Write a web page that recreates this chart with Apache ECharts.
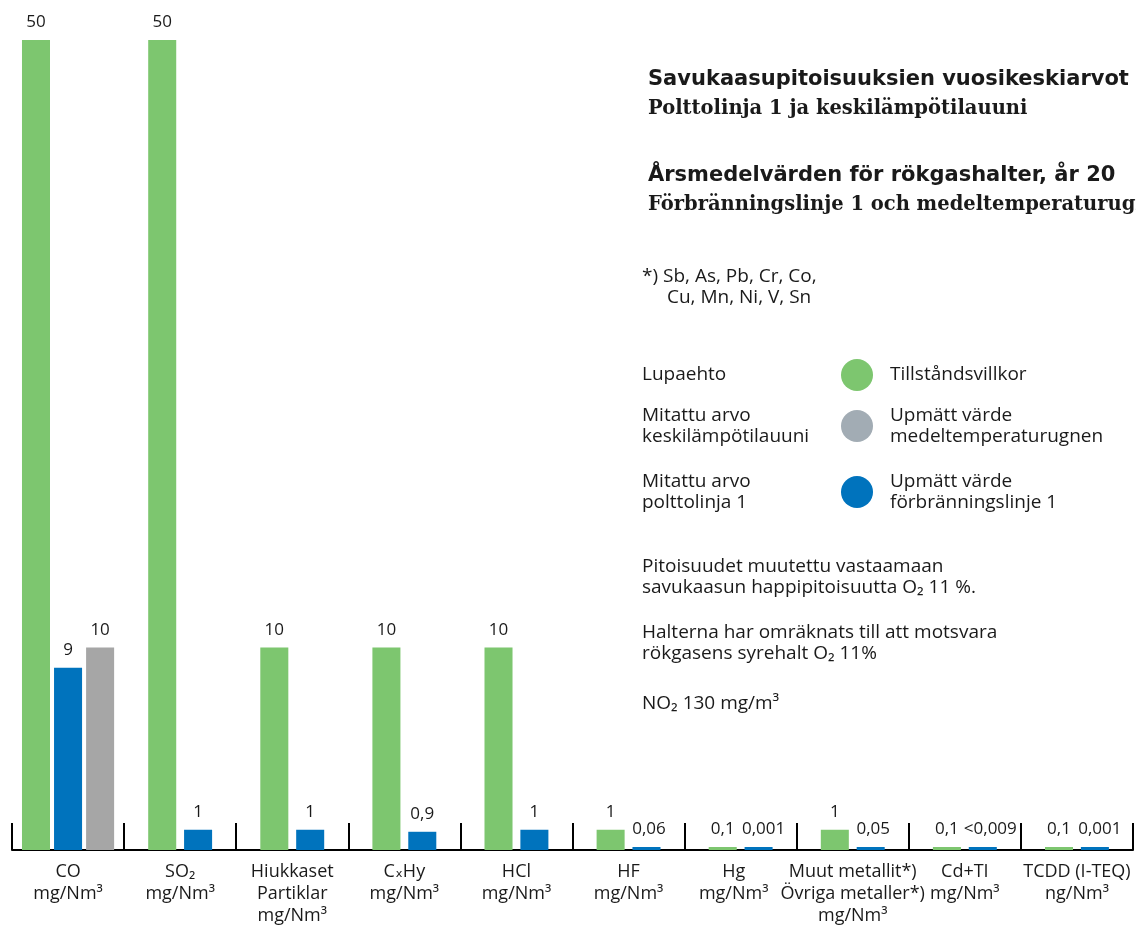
<!DOCTYPE html>
<html><head><meta charset="utf-8">
<script src="https://cdn.jsdelivr.net/npm/echarts@6/dist/echarts.min.js"></script>
<style>html,body{margin:0;padding:0;background:#fff}#c{width:1136px;height:928px}</style>
</head><body><div id="c"></div>
<script>
// ---- data ----
const categories = [
  "CO\nmg/Nm³", "SO₂\nmg/Nm³", "Hiukkaset\nPartiklar\nmg/Nm³", "CₓHy\nmg/Nm³", "HCl\nmg/Nm³",
  "HF\nmg/Nm³", "Hg\nmg/Nm³", "Muut metallit*)\nÖvriga metaller*)\nmg/Nm³", "Cd+TI\nmg/Nm³", "TCDD (I-TEQ)\nng/Nm³"
];
const permitValues  = [50, 50, 10, 10, 10, 1, 0.1, 1, 0.1, 0.1];
const line1Values   = [9, 1, 1, 0.9, 1, 0.06, 0.001, 0.05, 0.009, 0.001];
const furnaceValues = [10, null, null, null, null, null, null, null, null, null];
const permitLabels  = ["50", "50", "10", "10", "10", "1", "0,1", "1", "0,1", "0,1"];
const line1Labels   = ["9", "1", "1", "0,9", "1", "0,06", "0,001", "0,05", "<0,009", "0,001"];
const furnaceLabels = ["10", "", "", "", "", "", "", "", "", ""];
const seriesNames = ["Lupaehto / Tillståndsvillkor", "Mitattu arvo polttolinja 1 / Upmätt värde förbränningslinje 1", "Mitattu arvo keskilämpötilauuni / Upmätt värde medeltemperaturugnen"];
const legendFi = ["Lupaehto", "Mitattu arvo\nkeskilämpötilauuni", "Mitattu arvo\npolttolinja 1"];
const legendSv = ["Tillståndsvillkor", "Upmätt värde\nmedeltemperaturugnen", "Upmätt värde\nförbränningslinje 1"];
const titleFi = "Savukaasupitoisuuksien vuosikeskiarvot";
const subtitleFi = "Polttolinja 1 ja keskilämpötilauuni";
const titleSv = "Årsmedelvärden för rökgashalter, år 20";
const subtitleSv = "Förbränningslinje 1 och medeltemperaturugnen";
const noteMetals = ["*) Sb, As, Pb, Cr, Co,", "Cu, Mn, Ni, V, Sn"];
const noteFi = "Pitoisuudet muutettu vastaamaan\nsavukaasun happipitoisuutta O₂ 11 %.";
const noteSv = "Halterna har omräknats till att motsvara\nrökgasens syrehalt O₂ 11%";
const noteNO2 = "NO₂ 130 mg/m³";

// ---- styles ----
const GREEN = '#7DC66F', BLUE = '#0073BD', GRAY = '#A6A6A6', LEGGRAY = '#A2ACB4';
const FONT = '"Open Sans", "DejaVu Sans", sans-serif';
const SERIF = '"DejaVu Serif", "Liberation Serif", serif';

const order = [permitValues, line1Values, furnaceValues];
const labelsBy = [permitLabels, line1Labels, furnaceLabels];
const colors = [GREEN, BLUE, GRAY];

function makeRender(si) {
  return function (params, api) {
    const cat = api.value(0), val = api.value(1);
    const present = order.map(a => a[cat] != null);
    const n = present.filter(Boolean).length;
    let slot = 0;
    for (let k = 0; k < si; k++) if (present[k]) slot++;
    const bandW = api.size([1, 0])[0];
    const bw = bandW * 0.25, gap = bandW * (n > 2 ? 0.036 : 0.07);
    const base = api.coord([cat, 0]);
    const top = api.coord([cat, val]);
    const cs = params.coordSys;
    const groupW = n * bw + (n - 1) * gap;
    const x = base[0] - groupW / 2 + slot * (bw + gap);
    let y = Math.max(top[1], cs.y);
    let h = base[1] - y;
    if (h < 3) { h = 3; y = base[1] - 3; }
    const label = labelsBy[si][cat];
    const dx = (n === 2 && slot === 1 && label.length > 3) ? (label.length - 3) * 2.5 : 0;
    return {
      type: 'rect',
      shape: { x: x, y: y, width: bw, height: h },
      style: { fill: colors[si] },
      textContent: { style: { text: label, fontSize: 17, fontFamily: FONT, fill: '#1a1a1a' } },
      textConfig: { position: 'top', distance: 9, offset: [dx, 0] }
    };
  };
}

function seriesData(arr) {
  const out = [];
  arr.forEach((v, i) => { if (v != null) out.push([i, v]); });
  return out;
}

const graphic = [];
function txt(x, y, text, opts) {
  graphic.push({
    type: 'text', x: x, y: y, silent: true,
    style: Object.assign({ text: text, fontSize: 19, fontFamily: FONT, fill: '#1a1a1a', verticalAlign: 'middle', lineHeight: 21 }, opts || {})
  });
}
txt(648, 80, titleFi, { fontSize: 21, fontWeight: 'bold', fontFamily: '"DejaVu Sans", sans-serif' });
txt(648, 109, subtitleFi, { fontSize: 19.5, fontWeight: 'bold', fontFamily: SERIF });
txt(648, 176, titleSv, { fontSize: 21, fontWeight: 'bold', fontFamily: '"DejaVu Sans", sans-serif' });
txt(648, 205, subtitleSv, { fontSize: 19.5, fontWeight: 'bold', fontFamily: SERIF });
txt(642, 277, noteMetals[0]);
txt(667, 298, noteMetals[1]);
const legY = [375, 426, 492];
const legCol = [GREEN, LEGGRAY, BLUE];
for (let i = 0; i < 3; i++) {
  txt(642, legY[i], legendFi[i]);
  txt(890, legY[i], legendSv[i]);
  graphic.push({ type: 'circle', shape: { cx: 857, cy: legY[i], r: 16 }, style: { fill: legCol[i] }, silent: true });
}
txt(642, 577, noteFi);
txt(642, 643, noteSv);
txt(642, 704, noteNO2);

const chart = echarts.init(document.getElementById('c'), null, { renderer: 'canvas' });
chart.setOption({
  animation: false,
  backgroundColor: '#fff',
  grid: { left: 12, right: 3, top: 40, bottom: 78, containLabel: false },
  xAxis: {
    type: 'category', data: categories, boundaryGap: true,
    axisLine: { show: true, lineStyle: { color: '#000', width: 2 } },
    axisTick: { show: true, inside: true, length: 27, lineStyle: { color: '#000', width: 2 } },
    axisLabel: {
      interval: 0, margin: 11, fontSize: 18, lineHeight: 22, color: '#1a1a1a', fontFamily: FONT,
      formatter: function (value, index) {
        // nudge the narrow Hg label away from its wide neighbour
        if (index === 6) return value.split('\n').map(l => '{s|' + l + '}').join('\n');
        return value;
      },
      rich: { s: { fontSize: 18, lineHeight: 22, fontFamily: FONT, color: '#1a1a1a', padding: [0, 14, 0, 0] } }
    },
    splitLine: { show: false }
  },
  yAxis: { type: 'value', min: 0, max: 40, show: false, splitLine: { show: false } },
  series: [0, 1, 2].map(si => ({
    type: 'custom', name: seriesNames[si], renderItem: makeRender(si),
    data: seriesData(order[si]), encode: { x: 0, y: 1 }, clip: false, z: 3
  })),
  graphic: graphic
});
</script>
</body></html>
